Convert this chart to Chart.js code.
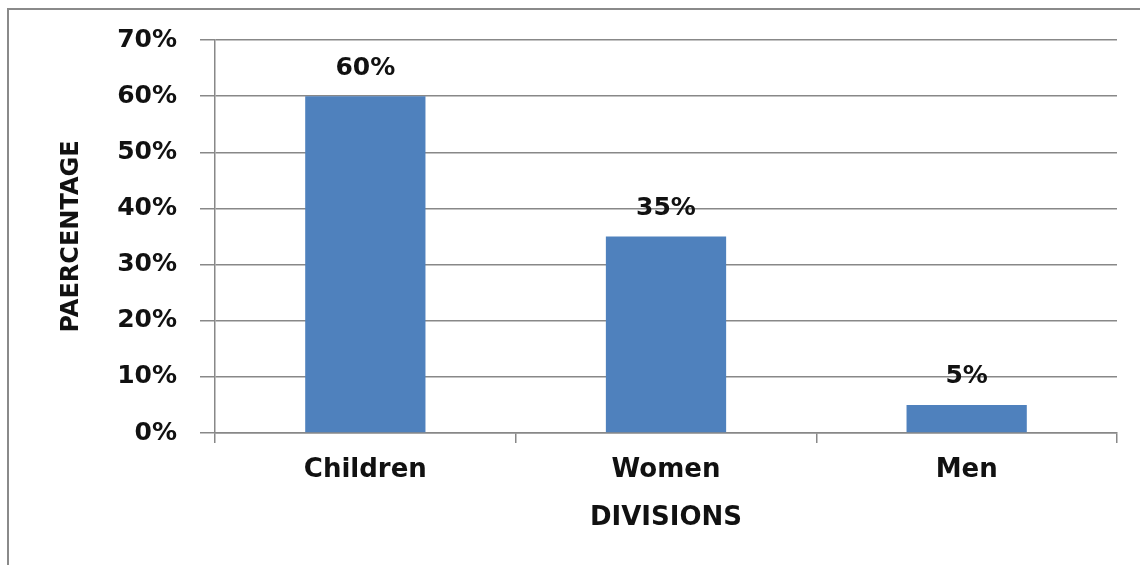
<!DOCTYPE html>
<html>
<head>
<meta charset="utf-8">
<script src="https://cdn.jsdelivr.net/npm/chart.js@4.4.1/dist/chart.umd.min.js"></script>
<style>
  html, body { margin: 0; padding: 0; background: #fff; }
  #wrap { width: 1140px; height: 565px; position: relative; }
</style>
</head>
<body>
<div id="wrap"><canvas id="chart"></canvas></div>
<script>
'use strict';

// data
const categories = ['Children', 'Women', 'Men'];
const percentValues = [60, 35, 5];
const yTickValues = [0, 10, 20, 30, 40, 50, 60, 70];

const BAR_COLOR = '#4f81bd';
const LINE_COLOR = '#888888';
const FAMILY = "'DejaVu Sans', Verdana, sans-serif";
const TICK_FONT = { family: FAMILY, weight: 'bold', size: 25 };
const CAT_FONT = { family: FAMILY, weight: 'bold', size: 26 };
const X_TITLE_FONT = { family: FAMILY, weight: 'bold', size: 26 };
const Y_TITLE_FONT = { family: FAMILY, weight: 'bold', size: 24 };

// outer frame (top + left edge of the cropped chart box)
const FramePlugin = {
  id: 'frame',
  beforeDraw(chart) {
    const { ctx, width, height } = chart;
    ctx.save();
    ctx.strokeStyle = '#8a8a8a';
    ctx.lineWidth = 2;
    ctx.beginPath();
    ctx.moveTo(width + 5, 9);
    ctx.lineTo(8, 9);
    ctx.lineTo(8, height + 5);
    ctx.stroke();
    ctx.restore();
  }
};

// value labels above each bar
const BarLabelPlugin = {
  id: 'barLabels',
  afterDatasetsDraw(chart) {
    const { ctx } = chart;
    const meta = chart.getDatasetMeta(0);
    ctx.save();
    ctx.fillStyle = '#111';
    ctx.font = `bold ${TICK_FONT.size}px ${FAMILY}`;
    ctx.textAlign = 'center';
    ctx.textBaseline = 'middle';
    meta.data.forEach((bar, i) => {
      ctx.fillText(percentValues[i] + '%', bar.x, bar.y - 28);
    });
    ctx.restore();
  }
};

const ctx = document.getElementById('chart').getContext('2d');
new Chart(ctx, {
  type: 'bar',
  data: {
    labels: categories,
    datasets: [{
      data: percentValues,
      backgroundColor: BAR_COLOR,
      borderWidth: 0,
      barPercentage: 0.4,
      categoryPercentage: 1.0
    }]
  },
  options: {
    responsive: true,
    maintainAspectRatio: false,
    animation: false,
    devicePixelRatio: 1,
    layout: { padding: { top: 40, right: 23, left: 0, bottom: 0 } },
    plugins: {
      legend: { display: false },
      tooltip: { enabled: false }
    },
    scales: {
      x: {
        afterFit(scale) { scale.height = 132; },
        grid: {
          display: true,
          drawOnChartArea: false,
          drawTicks: true,
          tickLength: 10,
          tickColor: LINE_COLOR,
          lineWidth: 1.5,
          offset: true
        },
        border: { display: true, color: LINE_COLOR, width: 1.5 },
        ticks: { color: '#111', font: CAT_FONT, padding: 12 },
        title: {
          display: true,
          text: 'DIVISIONS',
          color: '#111',
          font: X_TITLE_FONT,
          padding: { top: 0, bottom: 31 }
        }
      },
      y: {
        min: 0,
        max: 70,
        afterFit(scale) { scale.width = 215; },
        afterBuildTicks(scale) { scale.ticks = yTickValues.map((v) => ({ value: v })); },
        grid: {
          color: LINE_COLOR,
          lineWidth: 1.5,
          drawTicks: true,
          tickLength: 15,
          tickColor: LINE_COLOR
        },
        border: { display: true, color: LINE_COLOR, width: 1.5 },
        ticks: {
          color: '#111',
          font: TICK_FONT,
          padding: 23,
          callback: (v) => v + '%'
        },
        title: {
          display: true,
          text: 'PAERCENTAGE',
          color: '#111',
          font: Y_TITLE_FONT,
          padding: { top: 57, bottom: 0 }
        }
      }
    }
  },
  plugins: [FramePlugin, BarLabelPlugin]
});
</script>
</body>
</html>
